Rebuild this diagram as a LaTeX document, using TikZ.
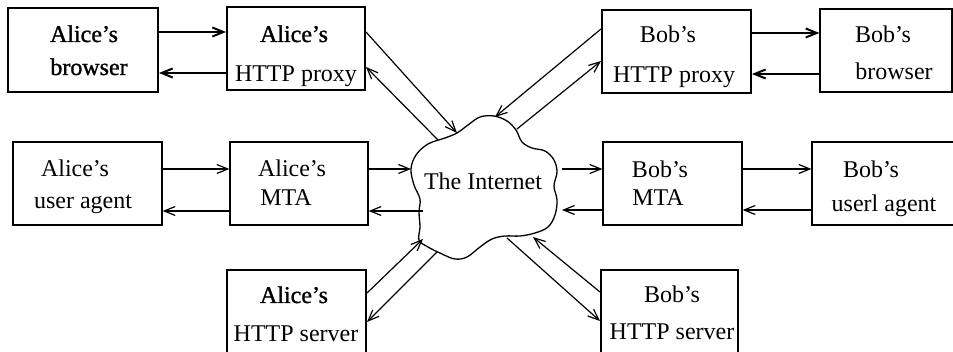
\documentclass[tikz,border=0pt]{standalone}
\usepackage{fontspec}
\setmainfont{Liberation Serif}
\newfontfamily\semibold[FakeBold=1.2]{Liberation Serif}
\usetikzlibrary{arrows.meta}
\begin{document}
\begin{tikzpicture}[x=1pt,y=-1pt,
  boxthick/.style={draw,line width=2pt,inner sep=0pt},
  boxthin/.style={draw,line width=1.3pt,inner sep=0pt},
  lbl/.style={anchor=base,inner sep=0pt,font=\fontsize{24}{28}\selectfont},
  lblb/.style={anchor=base,inner sep=0pt,font=\semibold\fontsize{24}{28}\selectfont},
  arr/.style={-{Straight Barb[length=11pt,width=9pt]},line width=1.2pt},
  arrthick/.style={-{Straight Barb[length=11pt,width=9pt]},line width=2pt}]
\useasboundingbox (0,0) rectangle (953,352);

% boxes
\node[boxthick,minimum width=150pt,minimum height=84pt] (ab) at (83,50) {};
\node[boxthick,minimum width=138pt,minimum height=83pt] (ap) at (296,48.5) {};
\node[boxthick,minimum width=149pt,minimum height=83pt] (bp) at (676.5,51.5) {};
\node[boxthin,minimum width=132pt,minimum height=83pt] (bb) at (886,50.5) {};
\node[boxthin,minimum width=149pt,minimum height=83pt] (au) at (87.5,183.5) {};
\node[boxthin,minimum width=138pt,minimum height=83pt] (am) at (299,183.5) {};
\node[boxthin,minimum width=139pt,minimum height=83pt] (bm) at (672.5,183.5) {};
\node[boxthin,minimum width=144pt,minimum height=83pt] (bu) at (884,183.5) {};
\node[boxthick,minimum width=139pt,minimum height=92pt] (as) at (296.5,316) {};
\node[boxthick,minimum width=137pt,minimum height=92pt] (bs) at (669.5,316) {};

% texts
\node[lblb] (t1) at (84,42) {Alice’s};
\node[lblb] (t2) at (89,75) {browser};
\node[lblb] (t3) at (294,42) {Alice’s};
\node[lbl] (t4) at (296,82) {HTTP proxy};
\node[lbl] (t5) at (668,43) {Bob’s};
\node[lbl] (t6) at (674,83) {HTTP proxy};
\node[lbl] (t7) at (883,43) {Bob’s};
\node[lbl] (t8) at (894,80) {browser};
\node[lbl] (t9) at (75,177) {Alice’s};
\node[lbl] (t10) at (83,209) {user agent};
\node[lbl] (t11) at (292,177) {Alice’s};
\node[lbl] (t12) at (286,206) {MTA};
\node[lbl] (t13) at (660,178) {Bob’s};
\node[lbl] (t14) at (658,206) {MTA};
\node[lbl] (t15) at (871,178) {Bob’s};
\node[lbl] (t16) at (884,212) {userl agent};
\node[lbl] (inet) at (483,190) {The Internet};
\node[lblb] (t17) at (294,303) {Alice’s};
\node[lbl] (t18) at (296,342) {HTTP server};
\node[lbl] (t19) at (672,303) {Bob’s};
\node[lbl] (t20) at (672,340) {HTTP server};

% cloud
\draw[line width=1.3pt] plot[smooth cycle,tension=0.6] coordinates {
 (411,169) (416,155) (428,144) (445,138) (457,133) (468,125) (480,117)
 (494,116) (507,121) (516,130) (522,142) (532,148) (545,151) (554,160)
 (557,172) (554,186) (557,200) (555,215) (548,227) (535,233) (520,236)
 (505,236) (492,239) (480,247) (467,257) (455,259) (442,254) (428,247)
 (419,240) (420,227) (419,212) (420,199) (414,185)};

\coordinate (c1) at (457,133);
\coordinate (c2) at (438,140);
\coordinate (c3) at (495,117);
\coordinate (c4) at (517,129);
\coordinate (c5) at (423,239);
\coordinate (c6) at (437,252);
\coordinate (c7) at (507,238);
\coordinate (c8) at (533,237);
\coordinate (c9) at (411,169);
\coordinate (c10) at (423,211);
\coordinate (c11) at (562,169);
\coordinate (c12) at (562,210);

% horizontal arrows
\draw[arrthick] (ab.east |- 0,32) -- (ap.west |- 0,32);
\draw[arrthick] (ap.west |- 0,73) -- (ab.east |- 0,73);
\draw[arrthick] (bp.east |- 0,33) -- (bb.west |- 0,33);
\draw[arrthick] (bb.west |- 0,74) -- (bp.east |- 0,74);
\draw[arr] (au.east |- 0,169) -- (am.west |- 0,169);
\draw[arr] (am.west |- 0,211) -- (au.east |- 0,211);
\draw[arr] (am.east |- 0,169) -- (c9);
\draw[arr] (c10) -- (am.east |- 0,211);
\draw[arr] (c11) -- (bm.west |- 0,169);
\draw[arr] (bm.west |- 0,210) -- (c12);
\draw[arr] (bm.east |- 0,169) -- (bu.west |- 0,169);
\draw[arr] (bu.west |- 0,210) -- (bm.east |- 0,210);

% diagonal arrows
\draw[arr] (ap.east |- 0,32) -- (c1);
\draw[arr] (c2) -- (ap.east |- 0,67);
\draw[arr] (bp.west |- 0,29) -- (c3);
\draw[arr] (c4) -- (bp.west |- 0,61);
\draw[arr] (as.east |- 0,293) -- (c5);
\draw[arr] (c6) -- (as.east |- 0,322);
\draw[arr] (c7) -- (bs.west |- 0,321);
\draw[arr] (bs.west |- 0,292) -- (c8);
\end{tikzpicture}
\end{document}
